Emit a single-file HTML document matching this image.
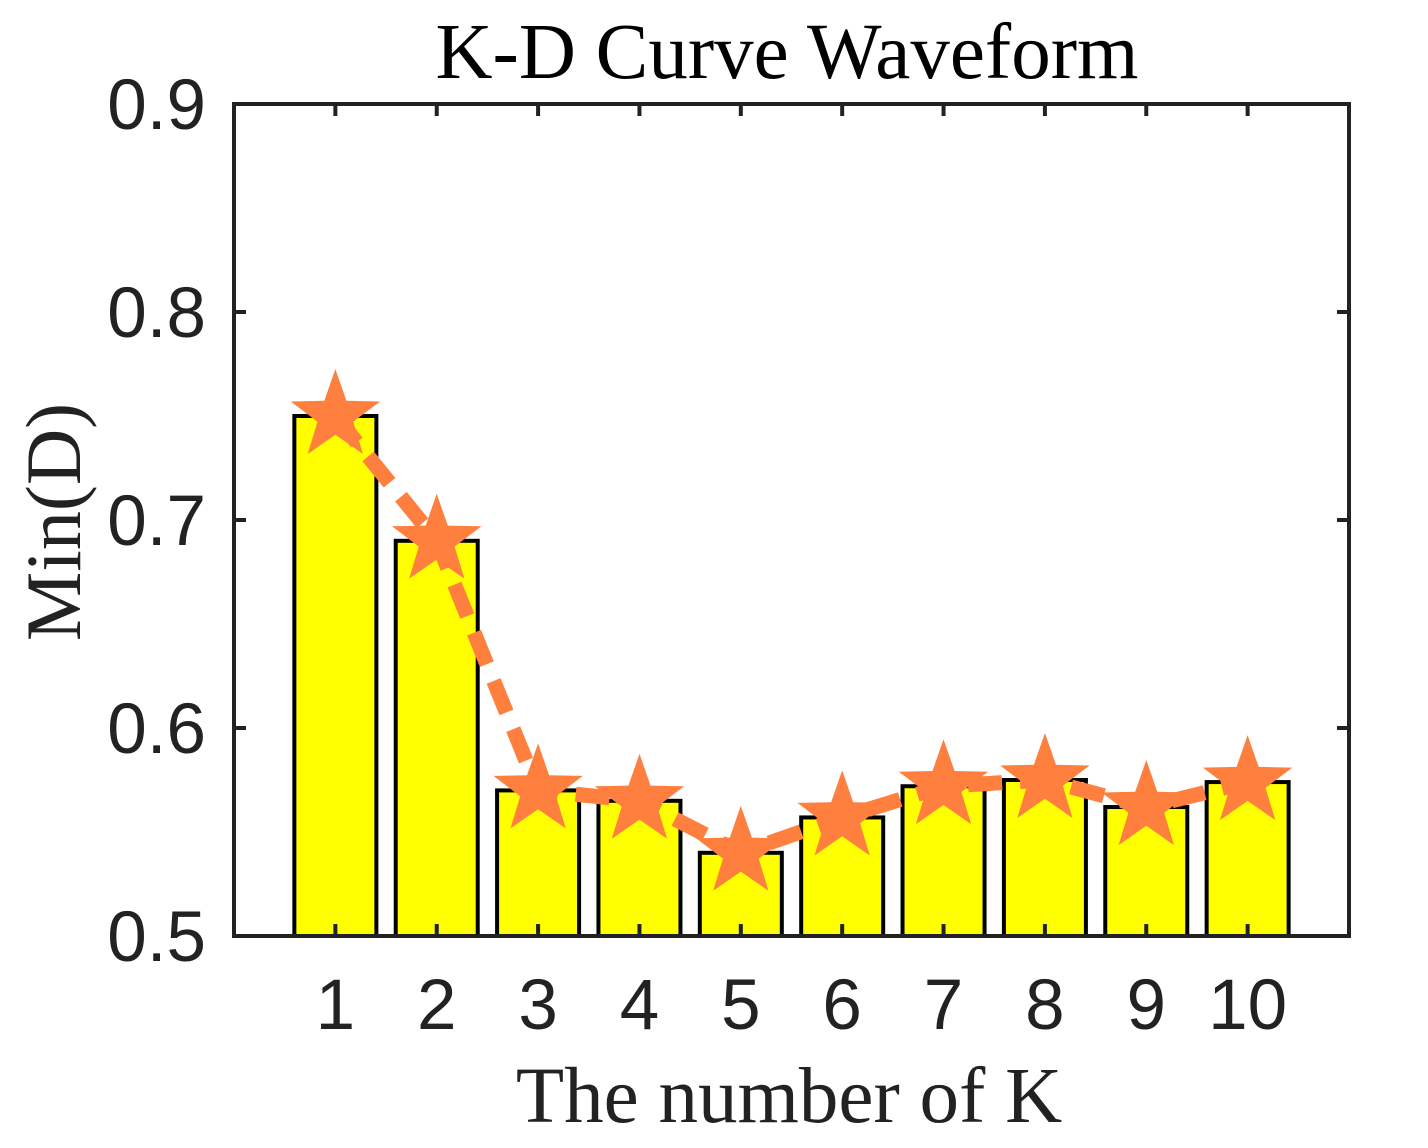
<!DOCTYPE html>
<html><head><meta charset="utf-8"><style>
html,body{margin:0;padding:0;background:#fff;}
svg{display:block;}
</style></head><body>
<svg id="chart" width="1428" height="1148" xmlns="http://www.w3.org/2000/svg">
<text x="787" y="78" text-anchor="middle" font-family="Liberation Serif, serif" font-size="79" fill="#000">K-D Curve Waveform</text>
<text x="789" y="1122" text-anchor="middle" font-family="Liberation Serif, serif" font-size="79" fill="#222">The number of K</text>
<text transform="translate(80,522) rotate(-90)" text-anchor="middle" font-family="Liberation Serif, serif" font-size="78" fill="#222">Min(D)</text>
<g id="plot"></g>
</svg>
<script>
const categories = [1,2,3,4,5,6,7,8,9,10];
const values = [0.75,0.69,0.57,0.565,0.54,0.557,0.572,0.575,0.562,0.574];
const yTicks = [0.5,0.6,0.7,0.8,0.9];
const yTickLabels = ["0.5","0.6","0.7","0.8","0.9"];

const L=234,R=1349,T=104,B=936;
const x=v=>L+(v-0)/(11-0)*(R-L);
const y=v=>B-(v-0.5)/(0.9-0.5)*(B-T);
const NS="http://www.w3.org/2000/svg";
const g=document.getElementById('plot');
function mk(tag,attrs){const e=document.createElementNS(NS,tag);for(const k in attrs)e.setAttribute(k,attrs[k]);g.appendChild(e);return e;}

categories.forEach((c,i)=>{
  const bw=82;
  const b=mk('rect',{x:x(c)-bw/2,y:y(values[i]),width:bw,height:B-y(values[i]),fill:'#ffff00',stroke:'#000','stroke-width':4});
  
  
  const t=mk('text',{x:x(c),y:1029,'text-anchor':'middle','font-family':'Liberation Sans, sans-serif','font-size':71,fill:'#222'});
  t.textContent=c;
  
  
});
const box=mk('rect',{x:L,y:T,width:R-L,height:B-T,fill:'none',stroke:'#222','stroke-width':4});


yTicks.forEach((v,i)=>{
  mk('line',{x1:L,x2:L+12,y1:y(v),y2:y(v),stroke:'#222','stroke-width':4});
  mk('line',{x1:R-12,x2:R,y1:y(v),y2:y(v),stroke:'#222','stroke-width':4});
  const t=mk('text',{x:L-28,y:y(v)+25,'text-anchor':'end','font-family':'Liberation Sans, sans-serif','font-size':71,fill:'#222'});
  t.textContent=yTickLabels[i];
  
  
});
categories.forEach(c=>{
  mk('line',{x1:x(c),x2:x(c),y1:B,y2:B-12,stroke:'#222','stroke-width':4});
  mk('line',{x1:x(c),x2:x(c),y1:T,y2:T+12,stroke:'#222','stroke-width':4});
});
const pts=categories.map((c,i)=>x(c)+','+y(values[i])).join(' ');
const line=mk('polyline',{points:pts,fill:'none',stroke:'#ff7f3f','stroke-width':15,'stroke-dasharray':'34 18'});


function star(cx,cy,r){let p=[];for(let k=0;k<10;k++){const rr=k%2?r*0.4:r;const a=-Math.PI/2+k*Math.PI/5;p.push((cx+rr*Math.cos(a)).toFixed(1)+','+(cy+rr*Math.sin(a)).toFixed(1));}return p.join(' ');}
categories.forEach((c,i)=>{
  const s=mk('polygon',{points:star(x(c),y(values[i]),47),fill:'#ff7f3f'});
  
  
});
</script>
</body></html>
